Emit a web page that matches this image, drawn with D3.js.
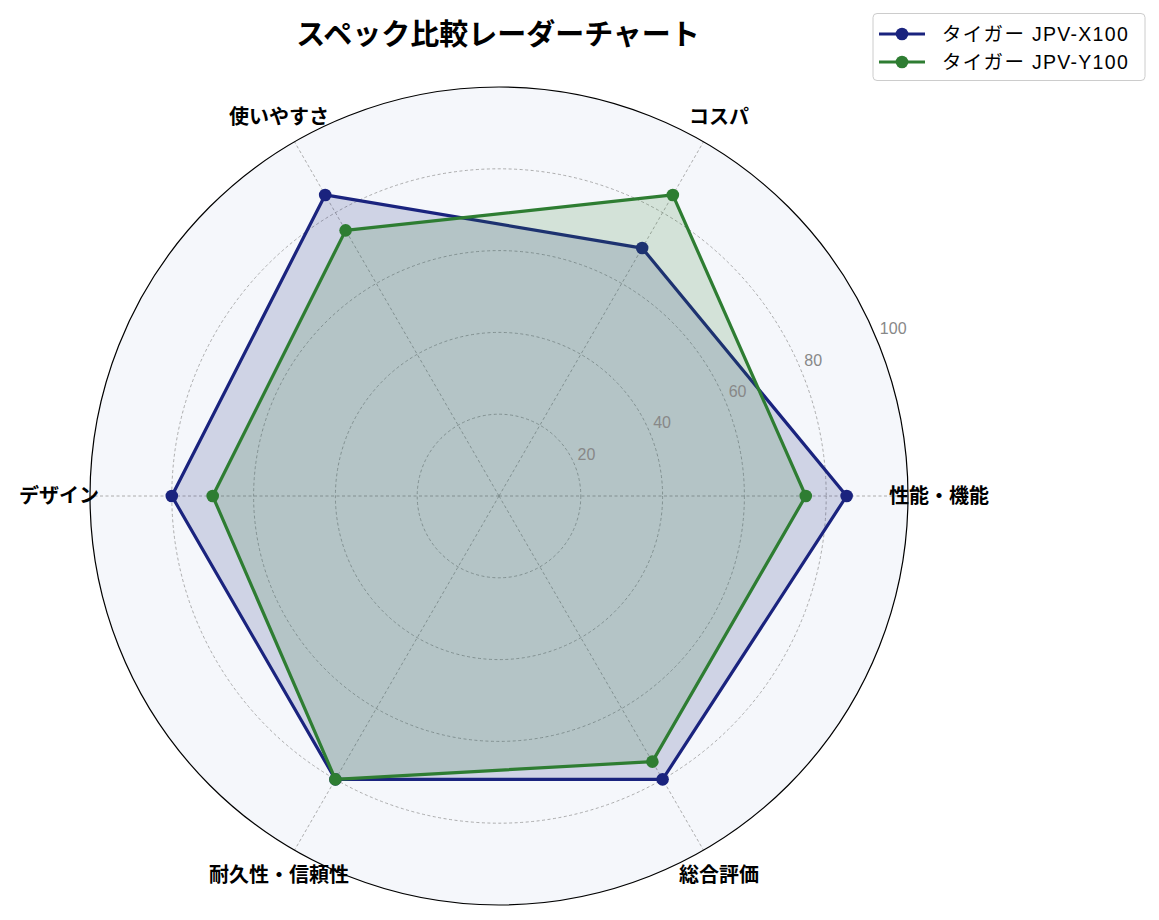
<!DOCTYPE html>
<html>
<head>
<meta charset="utf-8">
<script src="https://cdn.jsdelivr.net/npm/d3@7"></script>
<style>
  html, body { margin: 0; padding: 0; background: #fff; }
  svg { display: block; }
  text { font-family: "Liberation Sans", "Noto Sans CJK JP", sans-serif; }
</style>
</head>
<body>
<svg id="chart" width="1159" height="920"></svg>
<script>
const categories = ["性能・機能", "コスパ", "使いやすさ", "デザイン", "耐久性・信頼性", "総合評価"];
const seriesNames = ["タイガー JPV-X100", "タイガー JPV-Y100"];
const seriesX100 = [85, 70, 85, 80, 80, 80];
const seriesY100 = [75, 85, 75, 70, 80, 75];
const radialTicks = [20, 40, 60, 80, 100];
const titleText = "スペック比較レーダーチャート";

const colors = ["#1a237e", "#2e7d32"];
const series = [seriesX100, seriesY100];

const svg = d3.select("#chart");
const cx = 499, cy = 496, R = 409;
const r = d3.scaleLinear().domain([0, 100]).range([0, R]);
const angle = d3.scaleLinear().domain([0, categories.length]).range([0, 2 * Math.PI]);

function pt(i, v) {
  const a = angle(i);
  return [cx + r(v) * Math.cos(a), cy - r(v) * Math.sin(a)];
}

const g = svg.append("g");

// background
g.append("circle").attr("cx", cx).attr("cy", cy).attr("r", R)
  .attr("fill", "#f5f7fb").attr("stroke", "none");

// grid circles
g.selectAll(".grid-c").data(radialTicks.filter(t => t < 100)).enter().append("circle")
  .attr("cx", cx).attr("cy", cy).attr("r", d => r(d))
  .attr("fill", "none").attr("stroke", "#999").attr("stroke-width", 0.8)
  .attr("stroke-dasharray", "3,2.5");

// radial grid lines
g.selectAll(".grid-l").data(categories).enter().append("line")
  .attr("x1", cx).attr("y1", cy)
  .attr("x2", (d, i) => pt(i, 100)[0]).attr("y2", (d, i) => pt(i, 100)[1])
  .attr("stroke", "#999").attr("stroke-width", 0.8)
  .attr("stroke-dasharray", "3,2.5");

// series
const line = d3.line().curve(d3.curveLinearClosed);
series.forEach((vals, s) => {
  const pts = vals.map((v, i) => pt(i, v));
  g.append("path").attr("d", line(pts))
    .attr("fill", colors[s]).attr("fill-opacity", 0.17).attr("stroke", "none");
  g.append("path").attr("d", line(pts))
    .attr("fill", "none").attr("stroke", colors[s]).attr("stroke-width", 3.2)
    .attr("stroke-linejoin", "round");
  g.selectAll(".m" + s).data(pts).enter().append("circle")
    .attr("cx", d => d[0]).attr("cy", d => d[1]).attr("r", 6.3)
    .attr("fill", colors[s]);
});

// outer circle
g.append("circle").attr("cx", cx).attr("cy", cy).attr("r", R)
  .attr("fill", "none").attr("stroke", "#000").attr("stroke-width", 1.2);

// radial tick labels
const ra = 22.5 * Math.PI / 180;
g.selectAll(".rt").data(radialTicks).enter().append("text")
  .attr("x", d => cx + r(d) * Math.cos(ra) + 3)
  .attr("y", d => cy - r(d) * Math.sin(ra) - 5)
  .attr("font-size", 16).attr("fill", "#888")
  .attr("text-anchor", "start")
  .text(d => d);

// category labels
g.selectAll(".cat").data(categories).enter().append("text")
  .attr("x", (d, i) => cx + 440 * Math.cos(angle(i)))
  .attr("y", (d, i) => cy - 438 * Math.sin(angle(i)))
  .attr("text-anchor", "middle").attr("dominant-baseline", "central")
  .attr("font-size", 20).attr("font-weight", "bold").attr("fill", "#000")
  .text(d => d);

// title
svg.append("text").attr("x", 498).attr("y", 35)
  .attr("text-anchor", "middle").attr("dominant-baseline", "central")
  .attr("font-size", 29).attr("font-weight", "bold").attr("fill", "#000")
  .text(titleText);

// legend
const lg = svg.append("g");
lg.append("rect").attr("x", 873).attr("y", 13.5).attr("width", 272).attr("height", 67)
  .attr("rx", 4).attr("fill", "#fff").attr("fill-opacity", 0.8)
  .attr("stroke", "#ccc").attr("stroke-width", 1);
seriesNames.forEach((name, s) => {
  const y = 34 + s * 28;
  lg.append("line").attr("x1", 879).attr("x2", 925).attr("y1", y).attr("y2", y)
    .attr("stroke", colors[s]).attr("stroke-width", 3.2);
  lg.append("circle").attr("cx", 902).attr("cy", y).attr("r", 6.3).attr("fill", colors[s]);
  lg.append("text").attr("x", 942).attr("y", y).attr("dominant-baseline", "central")
    .attr("font-size", 19.5).attr("letter-spacing", 1.3).attr("fill", "#000").text(name);
});
</script>
</body>
</html>
